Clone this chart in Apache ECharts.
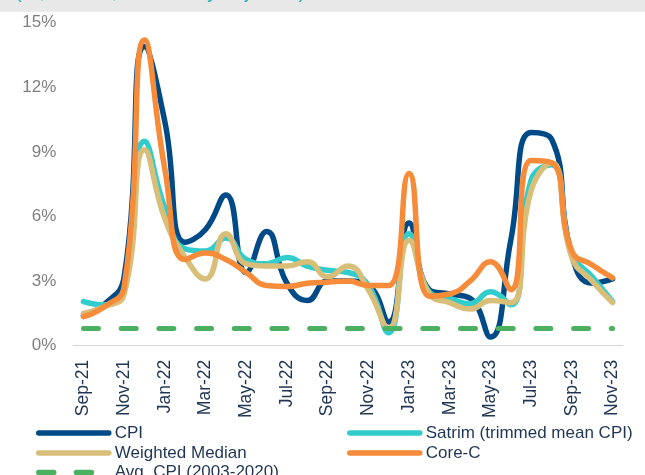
<!DOCTYPE html>
<html>
<head>
<meta charset="utf-8">
<script src="https://cdn.jsdelivr.net/npm/echarts@6/dist/echarts.min.js"></script>
<style>
  html, body { margin: 0; padding: 0; background: #fff; }
  #chart { width: 645px; height: 475px; }
</style>
</head>
<body>
<div id="chart"></div>
<script>
// months Sep-21 .. Nov-23
const months = [
  'Sep-21', 'Oct-21', 'Nov-21', 'Dec-21', 'Jan-22', 'Feb-22', 'Mar-22', 'Apr-22', 'May-22',
  'Jun-22', 'Jul-22', 'Aug-22', 'Sep-22', 'Oct-22', 'Nov-22', 'Dec-22', 'Jan-23', 'Feb-23',
  'Mar-23', 'Apr-23', 'May-23', 'Jun-23', 'Jul-23', 'Aug-23', 'Sep-23', 'Oct-23', 'Nov-23'
]

const cpi = [1.4, 1.9, 3.2, 13.9, 10.4, 4.8, 5.4, 7.0, 3.4, 5.3, 2.9, 2.1, 3.0, 3.0, 2.8, 1.1,
  5.7, 2.6, 2.4, 2.2, 0.4, 4.9, 9.9, 9.6, 4.2, 2.9, 3.1]
const satrim = [2.05, 1.9, 2.6, 9.5, 6.4, 4.5, 4.4, 5.0, 4.0, 3.8, 4.1, 3.7, 3.5, 3.4, 2.8, 0.6,
  5.2, 2.5, 2.2, 1.95, 2.5, 1.9, 7.7, 8.4, 4.3, 3.2, 2.05]
const weightedMedian = [1.5, 1.8, 2.4, 9.1, 5.9, 4.1, 3.1, 5.2, 3.8, 3.7, 3.7, 3.9, 3.2, 3.7, 2.6, 0.8,
  4.9, 2.4, 2.0, 1.7, 2.1, 2.0, 7.2, 8.5, 4.1, 3.0, 2.0]
const coreC = [1.35, 1.8, 2.75, 14.2, 8.2, 4.0, 4.3, 4.0, 3.4, 2.8, 2.75, 2.9, 2.95, 3.0, 2.8, 2.8,
  8.0, 2.3, 2.4, 3.0, 3.9, 2.6, 8.6, 8.5, 4.4, 3.75, 3.15]
const avgCpi = [0.8, 0.8, 0.8, 0.8, 0.8, 0.8, 0.8, 0.8, 0.8, 0.8, 0.8, 0.8, 0.8, 0.8, 0.8, 0.8,
  0.8, 0.8, 0.8, 0.8, 0.8, 0.8, 0.8, 0.8, 0.8, 0.8, 0.8]

const yTicks = [0, 3, 6, 9, 12, 15]

const textColor = '#1f3553'
const font = 'Arial, "Liberation Sans", sans-serif'
const lineWidth = 5.5

const chart = echarts.init(document.getElementById('chart'))

// one legend per entry so the two columns sit where they do in the picture
const legendAt = (name, left, top) => ({
  data: [name],
  left,
  top,
  padding: 0,
  itemWidth: 70,
  itemHeight: 14,
  itemGap: 0,
  selectedMode: false,
  itemStyle: { opacity: 0, borderWidth: 0 },
  lineStyle: { width: lineWidth },
  textStyle: { fontSize: 17, color: textColor, fontFamily: font, padding: [0, 0, 0, 1] }
})

const lineSeries = (name, data, color, extra) => Object.assign({
  name,
  type: 'line',
  data,
  smooth: 0.5,
  symbol: 'none',
  lineStyle: { width: lineWidth, color, cap: 'round', join: 'round' },
  itemStyle: { color }
}, extra || {})

chart.setOption({
  animation: false,
  graphic: [
    { type: 'rect', left: 0, top: 0, shape: { width: 645, height: 11.7 }, style: { fill: '#e8e8e8' }, z: 0 },
    {
      type: 'text', x: 15, y: -8,
      style: { text: '(%, 3m/3m, seasonally adjusted)', fill: '#1fb5b5', font: '20px ' + font, verticalAlign: 'middle' }
    }
  ],
  grid: { left: 73.3, right: 22.3, top: 22.7, bottom: 129.3 },
  legend: [
    legendAt('CPI', 36, 424.5),
    legendAt('Weighted Median', 36, 444.5),
    legendAt('Avg. CPI (2003-2020)', 36, 464),
    legendAt('Satrim (trimmed mean CPI)', 347, 424.5),
    legendAt('Core-C', 347, 444.5)
  ],
  xAxis: {
    type: 'category',
    data: months,
    boundaryGap: true,
    axisLine: { lineStyle: { color: '#d9d9d9', width: 1 } },
    axisTick: { interval: 1, length: 5, lineStyle: { color: '#d9d9d9' } },
    axisLabel: {
      interval: 1,
      rotate: 90,
      margin: 14,
      fontSize: 17.5,
      color: textColor,
      fontFamily: font
    }
  },
  yAxis: {
    type: 'value',
    min: yTicks[0],
    max: yTicks[yTicks.length - 1],
    interval: 3,
    splitLine: { show: false },
    axisLine: { show: false },
    axisTick: { show: false },
    axisLabel: {
      formatter: '{value}%',
      margin: 17,
      fontSize: 17,
      color: '#7f7f7f',
      fontFamily: font
    }
  },
  series: [
    lineSeries('CPI', cpi, '#004b87'),
    lineSeries('Satrim (trimmed mean CPI)', satrim, '#33cccc'),
    lineSeries('Weighted Median', weightedMedian, '#d8be78'),
    lineSeries('Core-C', coreC, '#f68b3a'),
    lineSeries('Avg. CPI (2003-2020)', avgCpi, '#4cb061', {
      smooth: false,
      lineStyle: { width: 5, color: '#4cb061', type: [15, 22.7], cap: 'round' }
    })
  ]
})
</script>
</body>
</html>
